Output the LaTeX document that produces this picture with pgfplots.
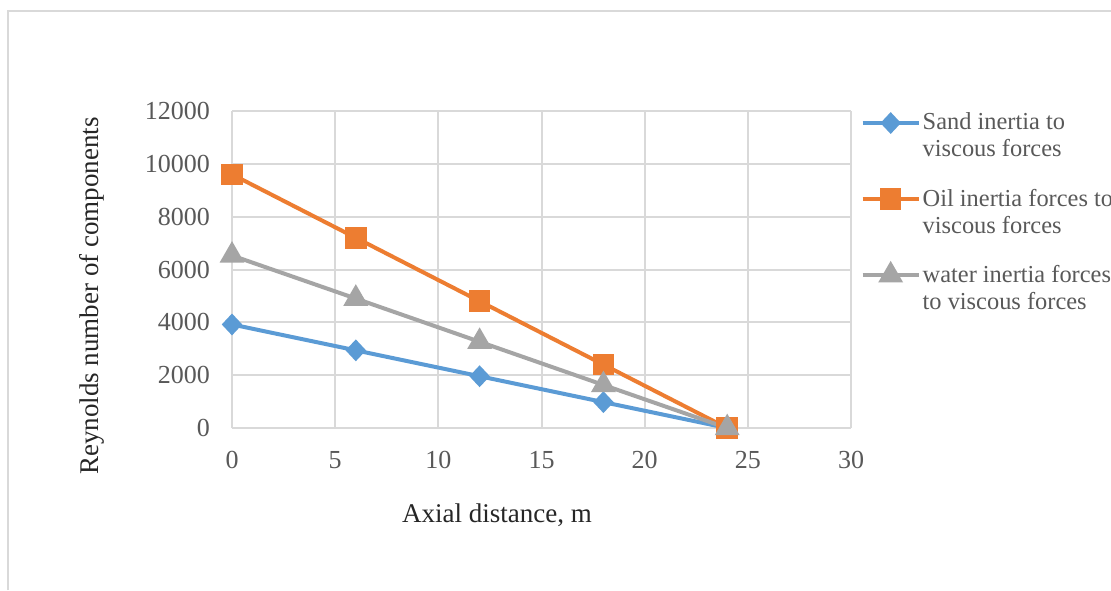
\documentclass[border=0pt]{standalone}
\usepackage{fontspec}
\setmainfont{Liberation Serif}
\usepackage{pgfplots}
\pgfplotsset{compat=1.18}
\definecolor{sandblue}{HTML}{5B9BD5}
\definecolor{oilorange}{HTML}{ED7D31}
\definecolor{watergray}{HTML}{A5A5A5}
\definecolor{gridc}{HTML}{D9D9D9}
\definecolor{tickc}{HTML}{595959}
\definecolor{titlec}{HTML}{262626}
\begin{document}
\begin{tikzpicture}
\useasboundingbox (0,0) rectangle (555.5pt,-295pt);
\path[fill=white] (0,0) rectangle (555.5pt,-295pt);
\draw[gridc, line width=1pt] (3.75pt,-295pt) -- (3.75pt,-5.5pt) -- (555.5pt,-5.5pt);
\begin{axis}[
  at={(116pt,-214pt)}, anchor=south west,
  width=309.5pt, height=158.5pt, scale only axis,
  xmin=0, xmax=30, ymin=0, ymax=12000,
  xtick={0,5,...,30}, ytick={0,2000,...,12000},
  scaled y ticks=false, scaled x ticks=false,
  grid=major, grid style={gridc, line width=1pt},
  axis line style={draw=none},
  major tick length=0pt,
  /pgf/number format/1000 sep={},
  /pgf/number format/assume math mode=true,
  tick label style={font=\fontsize{13}{15}\selectfont, text=tickc},
  yticklabel style={xshift=-7.5pt},
  xticklabel style={yshift=-8pt},
  legend style={at={(axis description cs:1.0053,1.02)}, anchor=north west,
    draw=none, fill=none, font=\fontsize{12.2}{13.5}\selectfont, text=tickc,
    row sep=10.5pt, cells={anchor=west}, nodes={align=left, inner xsep=1pt}},
  legend image code/.code={%
    \draw[mark repeat=2,mark phase=2] plot coordinates {(0pt,6.75pt)(14pt,6.75pt)(28pt,6.75pt)};},
]
\addplot[sandblue, line width=2pt, mark=diamond*, mark size=4pt, mark options={xscale=1.25, solid}]
  coordinates {(0,3920) (6,2940) (12,1960) (18,980) (24,0)};
\addlegendentry{Sand inertia to\\viscous forces}
\addplot[oilorange, line width=2pt, mark=square*, mark size=4.4pt]
  coordinates {(0,9600) (6,7200) (12,4800) (18,2400) (24,0)};
\addlegendentry{Oil inertia forces to\\viscous forces}
\addplot[watergray, line width=2pt, mark=triangle*, mark size=5.2pt]
  coordinates {(0,6530) (6,4900) (12,3265) (18,1630) (24,0)};
\addlegendentry{water inertia forces\\to viscous forces}
\end{axis}
\node[rotate=90, font=\fontsize{13.5}{15}\selectfont, text=titlec] at (46pt,-148pt) {Reynolds number of components};
\node[font=\fontsize{13.5}{15}\selectfont, text=titlec] at (248.5pt,-257.5pt) {Axial distance, m};
\end{tikzpicture}
\end{document}
